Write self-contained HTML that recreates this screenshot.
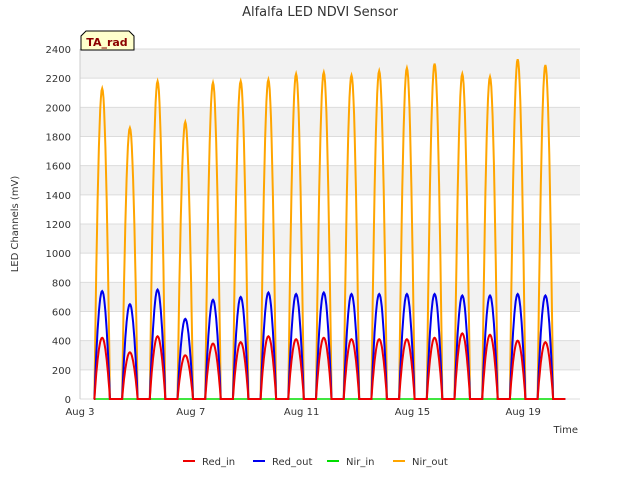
<!DOCTYPE html>
<html><head><meta charset="utf-8"><style>
body{margin:0;background:#fff;font-family:"Liberation Sans","DejaVu Sans",sans-serif}
svg text{font-family:"DejaVu Sans","Liberation Sans",sans-serif}
</style></head><body>
<svg id="c" width="640" height="480">
<text x="320" y="16" text-anchor="middle" font-size="13" fill="#333">Alfalfa LED NDVI Sensor</text>
<text transform="translate(18,224) rotate(-90)" text-anchor="middle" font-size="10" fill="#333">LED Channels (mV)</text>
<text x="578" y="433" text-anchor="end" font-size="10" fill="#333">Time</text>
<g id="bands"></g><g id="grid"></g><g id="series"></g><g id="ticks"></g>
<g>
<path d="M81,50 L81,36 L86,31 L129,31 L134,36 L134,50 Z" fill="#ffffcc" stroke="#000" stroke-width="1"/>
<text x="107" y="46" text-anchor="middle" font-size="11" font-weight="bold" fill="#8b0000">TA_rad</text>
</g>
<g id="legend"></g>
</svg>
<script>
const yTicks=[0,200,400,600,800,1000,1200,1400,1600,1800,2000,2200,2400];
const xTickLabels=["Aug 3","Aug 7","Aug 11","Aug 15","Aug 19"];
const xTickDays=[0,4,8,12,16];
const days=[0,1,2,3,4,5,6,7,8,9,10,11,12,13,14,15,16];
const nirOutPeaks=[2130,1860,2180,1900,2170,2180,2190,2230,2240,2220,2250,2270,2300,2230,2210,2330,2290];
const redOutPeaks=[740,650,750,550,680,700,730,720,730,720,720,720,720,710,710,720,710];
const redInPeaks=[420,320,430,300,380,390,430,410,420,410,410,410,420,450,440,400,390];
const nirInPeaks=[0,0,0,0,0,0,0,0,0,0,0,0,0,0,0,0,0];
const X0=80,X1=580,Y0=399,Y1=49,DMAX=18.05;
const xs=d=>X0+(X1-X0)*d/DMAX, ys=v=>Y0-(Y0-Y1)*v/2400;
const NS="http://www.w3.org/2000/svg";
function mk(t,a,p){const e=document.createElementNS(NS,t);for(const k in a)e.setAttribute(k,a[k]);p.appendChild(e);return e;}
const bands=document.getElementById('bands'),grid=document.getElementById('grid'),ticks=document.getElementById('ticks'),ser=document.getElementById('series'),leg=document.getElementById('legend');
mk('rect',{x:X0,y:Y1,width:X1-X0,height:Y0-Y1,fill:'#fff'},bands);
for(let i=0;i<yTicks.length-1;i++){if(i%2===1){const r=mk('rect',{x:X0,y:ys(yTicks[i+1]),width:X1-X0,height:ys(yTicks[i])-ys(yTicks[i+1]),fill:'#f2f2f2'},bands);

}}
yTicks.forEach(v=>{const l=mk('line',{x1:X0,x2:X1,y1:ys(v),y2:ys(v),stroke:'#dcdcdc','stroke-width':1},grid);


const t=mk('text',{x:X0-9,y:ys(v)+4,'text-anchor':'end','font-size':10,fill:'#333'},ticks);t.textContent=v;

});
mk('line',{x1:X0,x2:X0,y1:Y1,y2:Y0,stroke:'#ccc'},grid);
xTickDays.forEach((d,i)=>{const t=mk('text',{x:xs(d),y:415,'text-anchor':'middle','font-size':10,fill:'#333'},ticks);t.textContent=xTickLabels[i];

});
function series(peaks,color,name,w){let pts=[[xs(0.5),ys(0)]];
days.forEach((d,i)=>{for(let k=0;k<=24;k++){const f=k/24;const t=d+0.52+0.56*f;const v=peaks[i]*Math.pow(Math.sin(Math.PI*f),0.9);pts.push([xs(t),ys(v)]);}
pts.push([xs(d+1.52),ys(0)]);});
const p=mk('polyline',{points:pts.map(p=>p[0].toFixed(1)+','+p[1].toFixed(1)).join(' '),fill:'none',stroke:color,'stroke-width':w},ser);

}
series(nirInPeaks,'#00dd00','nir-in-line',1.5);
series(nirOutPeaks,'#ffa500','nir-out-line',2);
series(redOutPeaks,'#0000ee','red-out-line',2);
series(redInPeaks,'#ee0000','red-in-line',2);
const L=[['Red_in','#ee0000',183],['Red_out','#0000ee',253],['Nir_in','#00dd00',327],['Nir_out','#ffa500',393]];
L.forEach(e=>{const g=mk('g',{},leg);


mk('line',{x1:e[2],x2:e[2]+12,y1:461,y2:461,stroke:e[1],'stroke-width':2},g);
const t=mk('text',{x:e[2]+19,y:465,'font-size':10,fill:'#333'},g);t.textContent=e[0];});
</script>
</body></html>
